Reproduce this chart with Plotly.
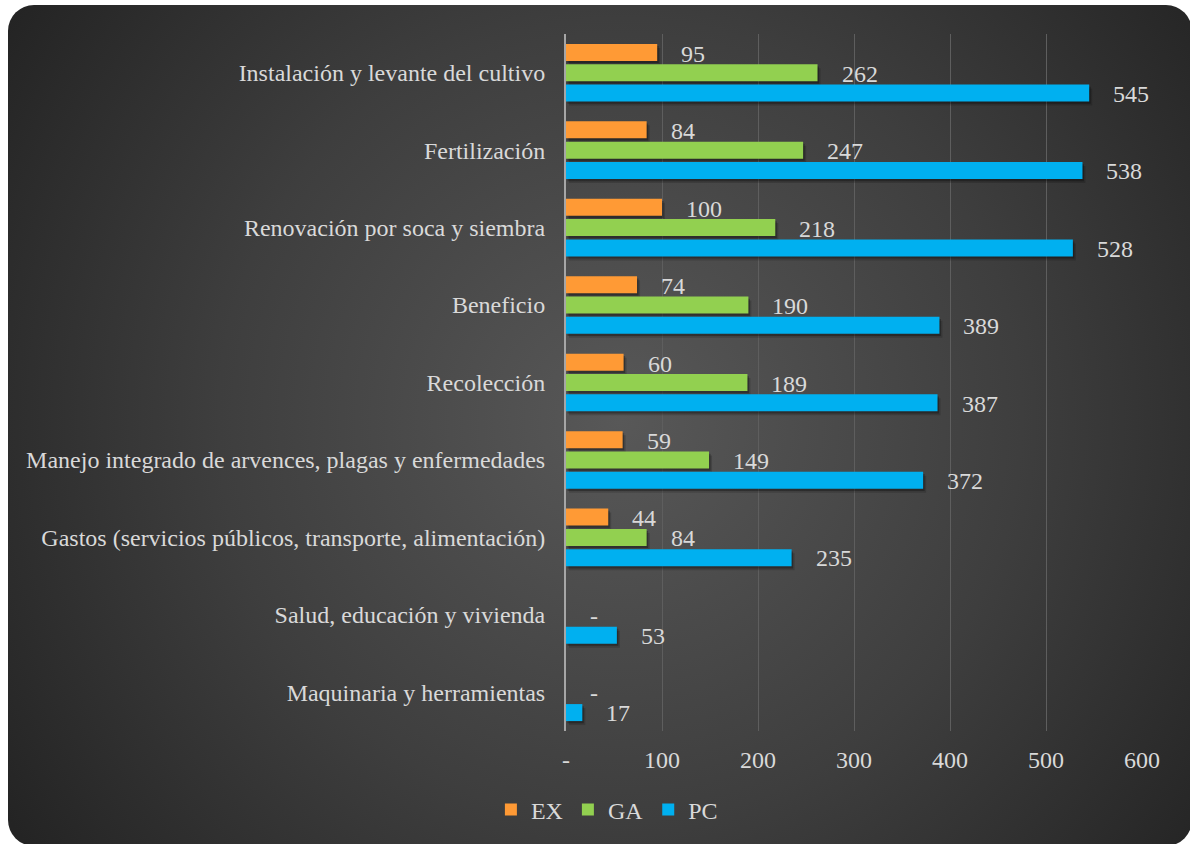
import base64
import plotly.graph_objects as go

# Cost items (top to bottom) and the value of each series
categories = [
    "Instalación y levante del cultivo",
    "Fertilización",
    "Renovación por soca y siembra",
    "Beneficio",
    "Recolección",
    "Manejo integrado de arvences, plagas y enfermedades",
    "Gastos (servicios públicos, transporte, alimentación)",
    "Salud, educación y vivienda",
    "Maquinaria y herramientas",
]
ex_values = [95, 84, 100, 74, 60, 59, 44, 0, 0]
ga_values = [262, 247, 218, 190, 189, 149, 84, 0, 0]
pc_values = [545, 538, 528, 389, 387, 372, 235, 53, 17]

series_names = ["EX", "GA", "PC"]
x_tick_values = [0, 100, 200, 300, 400, 500, 600]
x_tick_labels = ["-", "100", "200", "300", "400", "500", "600"]

# Styling
W, H = 1190, 844
M_L, M_R, M_T, M_B = 566, 48, 34, 113
COLORS = ["#FF9A35", "#92D050", "#00B0F0"]
TEXT = "#D9D9D9"
FONT = "'Liberation Serif', 'Times New Roman', Times, serif"
FS = 24
X_MAX = 600

plot_w = W - M_L - M_R
plot_h = H - M_T - M_B
cat_px = plot_h / len(categories)      # pixels per category band
px_per_unit = plot_w / X_MAX            # pixels per data unit on x

# Bar geometry inside each band (category units): three stacked rows
BAR_W = 17.0 / cat_px
SLOT = 20.3 / cat_px
row_offsets = [-SLOT - BAR_W / 2, -BAR_W / 2, SLOT - BAR_W / 2]

all_values = [ex_values, ga_values, pc_values]
fig = go.Figure()

# Soft drop shadow: two translucent copies nudged right and down
for dx_px, dy_px, alpha in [(3.0, 4.0, 0.16), (1.5, 2.2, 0.28)]:
    for i, vals in enumerate(all_values):
        fig.add_trace(go.Bar(
            y=categories, x=vals, orientation="h",
            base=dx_px / px_per_unit,
            width=BAR_W, offset=row_offsets[i] + dy_px / cat_px,
            marker=dict(color=f"rgba(0,0,0,{alpha})", line=dict(width=0)),
            showlegend=False, hoverinfo="skip",
        ))

for i, (name, vals, col) in enumerate(zip(series_names, all_values, COLORS)):
    fig.add_trace(go.Bar(
        name=name, y=categories, x=vals, orientation="h",
        width=BAR_W, offset=row_offsets[i],
        marker=dict(color=col, line=dict(width=0)),
        hoverinfo="x+name",
    ))

# Value labels placed just past the end of each bar, one row per series
row_shift = [20, 0, -20]
annotations = []
for i, vals in enumerate(all_values):
    for cat, v in zip(categories, vals):
        if v == 0:
            if series_names[i] != "GA":
                continue
            label = "-"
        else:
            label = str(v)
        annotations.append(dict(
            x=v, y=cat, xref="x", yref="y", text=label, showarrow=False,
            xanchor="left", yanchor="middle", xshift=22, yshift=row_shift[i] - 1,
            font=dict(family=FONT, size=FS, color=TEXT),
        ))

# Dark rounded panel with a radial gradient behind the whole chart
svg = (
    f"<svg xmlns='http://www.w3.org/2000/svg' width='{W}' height='{H}' "
    f"viewBox='0 0 {W} {H}' preserveAspectRatio='none'>"
    "<defs><radialGradient id='g' gradientUnits='userSpaceOnUse' "
    "cx='620' cy='420' r='730'>"
    "<stop offset='0' stop-color='#585858'/>"
    "<stop offset='0.55' stop-color='#3e3e3e'/>"
    "<stop offset='1' stop-color='#242424'/>"
    "</radialGradient></defs>"
    "<rect x='8' y='5' width='1184' height='841' rx='26' ry='26' fill='url(#g)'/>"
    "</svg>"
)
src = "data:image/svg+xml;base64," + base64.b64encode(svg.encode("utf-8")).decode("ascii")

fig.update_layout(
    width=W, height=H,
    margin=dict(l=M_L, r=M_R, t=M_T, b=M_B, autoexpand=False),
    paper_bgcolor="white",
    plot_bgcolor="rgba(0,0,0,0)",
    barmode="overlay",
    font=dict(family=FONT, size=FS, color=TEXT),
    images=[dict(
        source=src, xref="paper", yref="paper",
        x=-M_L / plot_w, y=1 + M_T / plot_h,
        sizex=W / plot_w, sizey=H / plot_h,
        xanchor="left", yanchor="top", sizing="stretch", layer="below",
    )],
    annotations=annotations,
    showlegend=True,
    legend=dict(
        orientation="h", xref="container", yref="container",
        x=0.51, y=1 - 810 / H, xanchor="center", yanchor="middle",
        font=dict(family=FONT, size=FS, color=TEXT),
        bgcolor="rgba(0,0,0,0)", traceorder="normal",
    ),
    xaxis=dict(
        range=[0, X_MAX], tickvals=x_tick_values, ticktext=x_tick_labels,
        showgrid=True, gridcolor="#5E5E5E", gridwidth=1,
        zeroline=False, showline=False,
        ticks="outside", ticklen=0, ticklabelstandoff=7,
        tickfont=dict(family=FONT, size=FS, color=TEXT),
        fixedrange=True,
    ),
    yaxis=dict(
        type="category", categoryorder="array", categoryarray=categories,
        range=[len(categories) - 0.5, -0.5],
        showgrid=False, zeroline=False,
        showline=True, linecolor="#A6A6A6", linewidth=2,
        ticks="outside", ticklen=0, ticklabelstandoff=14,
        tickfont=dict(family=FONT, size=FS, color=TEXT),
        fixedrange=True,
    ),
)

fig.write_html("out.html")
